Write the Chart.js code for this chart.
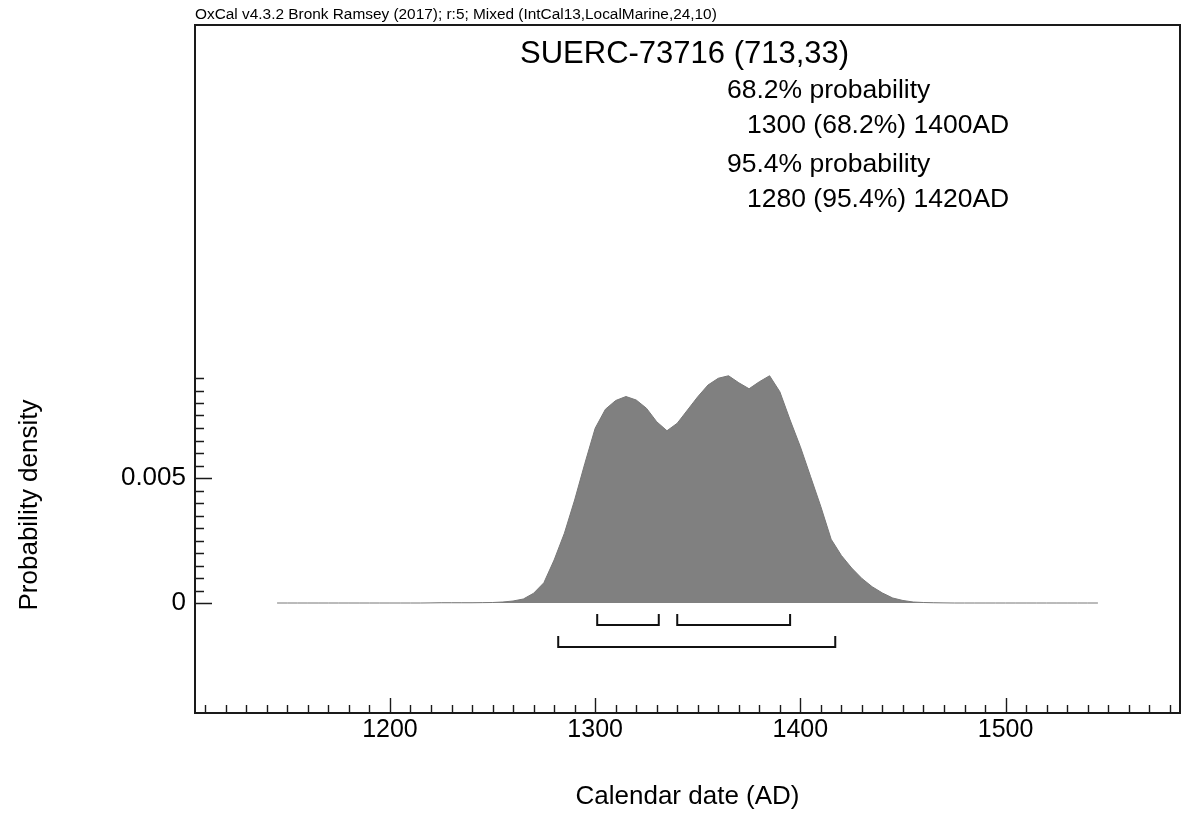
<!DOCTYPE html>
<html><head><meta charset="utf-8">
<script src="https://cdn.jsdelivr.net/npm/chart.js@4/dist/chart.umd.min.js"></script>
<style>html,body{margin:0;padding:0;background:#fff}#wrap{width:1181px;height:816px;position:relative}</style>
</head><body><div id="wrap"><canvas id="c" width="1181" height="816"></canvas></div>
<script>
// ---- data ----
const years = [1145,1150,1155,1160,1165,1170,1175,1180,1185,1190,1195,1200,1205,1210,1215,
  1220,1225,1230,1235,1240,1245,1250,1255,1260,1265,1270,1275,1280,1285,1290,1295,1300,1305,1310,1315,1320,
  1325,1330,1335,1340,1345,1350,1355,1360,1365,1370,1375,1380,1385,1390,1395,1400,1405,1410,1415,1420,
  1425,1430,1435,1440,1445,1450,1455,1460,1465,1470,
  1475,1480,1485,1490,1495,1500,1505,1510,1515,1520,1525,1530,1535,1540,1545];
const density = [0,0,0,0,0,0,0,0,0,0,0,0,0,0,0,
  0.000005,0.00001,0.00001,0.00001,0.00001,0.000015,0.00002,0.00004,0.00008,0.00016,0.00039,0.00081,0.00172,0.00279,0.00412,0.00559,0.00699,0.00775,0.0081,0.00826,0.00812,
  0.00779,0.00725,0.00689,0.00719,0.00772,0.00825,0.00872,0.00899,0.00909,0.00881,0.00857,0.00885,0.00909,0.00845,0.00732,0.00625,0.00505,0.00385,0.00255,0.0019,
  0.0014,0.00098,0.00065,0.0004,0.0002,0.0001,0.00004,0.00002,0.00001,0.000005,
  0,0,0,0,0,0,0,0,0,0,0,0,0,0,0];
const xTickLabels = [1200,1300,1400,1500];
const yTickLabels = [0,0.005];
const range68 = [[1301,1331],[1340,1395]];
const range95 = [[1282,1417]];
const headerText = 'OxCal v4.3.2 Bronk Ramsey (2017); r:5; Mixed (IntCal13,LocalMarine,24,10)';
const sampleTitle = 'SUERC-73716 (713,33)';
const summaryHeads = ['68.2% probability','95.4% probability'];
const summaryRanges = ['1300 (68.2%) 1400AD','1280 (95.4%) 1420AD'];
const xTitle = 'Calendar date (AD)';
const yTitle = 'Probability density';

const FAM = "'Liberation Sans', Arial, Helvetica, sans-serif";

const decor = {
  id: 'decor',
  afterDatasetsDraw(chart) {
    const {ctx, chartArea: a, scales: {x, y}} = chart;
    ctx.save();
    // frame
    ctx.strokeStyle = '#1a1a1a';
    ctx.lineWidth = 2;
    ctx.strokeRect(a.left, a.top, a.right - a.left, a.bottom - a.top);
    // x ticks (inward, up from bottom)
    ctx.lineWidth = 1.4;
    ctx.beginPath();
    for (let v = 1110; v <= 1580; v += 10) {
      const px = Math.round(x.getPixelForValue(v)) + 0.5;
      const len = (v % 100 === 0) ? 15 : 8;
      ctx.moveTo(px, a.bottom);
      ctx.lineTo(px, a.bottom - len);
    }
    // y ticks (inward, right from left)
    for (let k = 0; k <= 18; k++) {
      const v = k * 0.0005;
      const py = Math.round(y.getPixelForValue(v)) + 0.5;
      const len = (k % 10 === 0) ? 17 : 9;
      ctx.moveTo(a.left, py);
      ctx.lineTo(a.left + len, py);
    }
    ctx.stroke();
    // range brackets
    const y0 = y.getPixelForValue(0);
    ctx.lineWidth = 2;
    ctx.strokeStyle = '#111';
    const bracket = (r, top, bot) => {
      const x1 = x.getPixelForValue(r[0]), x2 = x.getPixelForValue(r[1]);
      ctx.beginPath();
      ctx.moveTo(x1, y0 + top); ctx.lineTo(x1, y0 + bot); ctx.lineTo(x2, y0 + bot); ctx.lineTo(x2, y0 + top);
      ctx.stroke();
    };
    range68.forEach(r => bracket(r, 11, 22));
    range95.forEach(r => bracket(r, 33, 44));
    // texts
    ctx.fillStyle = '#000';
    ctx.textBaseline = 'alphabetic';
    ctx.textAlign = 'left';
    ctx.font = '15.4px ' + FAM;
    ctx.fillText(headerText, a.left, 19);
    ctx.textAlign = 'left';
    ctx.font = '31px ' + FAM;
    ctx.fillText(sampleTitle, 520, 63);
    ctx.font = '26.5px ' + FAM;
    ctx.fillText(summaryHeads[0], 727, 98);
    ctx.fillText(summaryRanges[0], 747, 133);
    ctx.fillText(summaryHeads[1], 727, 172);
    ctx.fillText(summaryRanges[1], 747, 207);
    // y title
    ctx.translate(30, 505);
    ctx.rotate(-Math.PI / 2);
    ctx.textAlign = 'center';
    ctx.textBaseline = 'middle';
    ctx.font = '26px ' + FAM;
    ctx.fillText(yTitle, 0, 0);
    ctx.restore();
  }
};

new Chart(document.getElementById('c'), {
  type: 'line',
  data: {
    datasets: [{
      data: years.map((yr, i) => ({x: yr, y: density[i]})),
      fill: 'origin',
      backgroundColor: '#808080',
      borderColor: '#777777',
      borderWidth: 1,
      pointRadius: 0,
      tension: 0
    }]
  },
  options: {
    responsive: false,
    animation: false,
    events: [],
    layout: {padding: {top: 25, right: 1, left: 0, bottom: 0}},
    plugins: {legend: {display: false}, tooltip: {enabled: false}, title: {display: false}},
    scales: {
      x: {
        type: 'linear', min: 1105, max: 1585,
        grid: {display: false, drawTicks: false},
        border: {display: false},
        afterBuildTicks: s => { s.ticks = xTickLabels.map(v => ({value: v})); },
        afterFit: s => { s.height = 103; },
        ticks: {padding: 2, font: {family: FAM, size: 25}, color: '#000', maxRotation: 0, autoSkip: false,
                callback: v => String(v)},
        title: {display: true, text: xTitle, font: {family: FAM, size: 26}, color: '#000',
                padding: {top: 0, bottom: 4}}
      },
      y: {
        type: 'linear', min: -0.0044, max: 0.02312,
        grid: {display: false, drawTicks: false},
        border: {display: false},
        afterBuildTicks: s => { s.ticks = yTickLabels.map(v => ({value: v})); },
        afterFit: s => { s.width = 195; },
        ticks: {padding: 9, font: {family: FAM, size: 26}, color: '#000', autoSkip: false,
                callback: v => String(v)}
      }
    }
  },
  plugins: [decor]
});
</script>
</body></html>
